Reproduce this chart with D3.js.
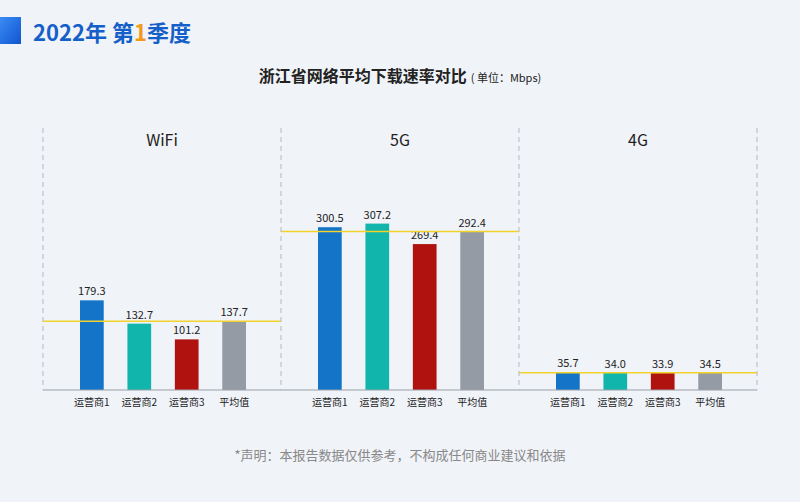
<!DOCTYPE html>
<html><head><meta charset="utf-8">
<script src="https://cdn.jsdelivr.net/npm/d3@7"></script>
<style>body{margin:0;background:#f0f3f8;font-family:"Noto Sans CJK SC","Noto Sans",sans-serif}</style>
</head><body><div id="chart"></div>
<script>
const panels = ["WiFi", "5G", "4G"];
const operators = ["运营商1", "运营商2", "运营商3", "平均值"];
const wifiValues = [179.3, 132.7, 101.2, 137.7];
const g5Values = [300.5, 307.2, 269.4, 292.4];
const g4Values = [35.7, 34.0, 33.9, 34.5];
const panelValues = [wifiValues, g5Values, g4Values];
const panelMax = [520, 480, 520];
const colors = ["#1474c8", "#12b5ac", "#b0120f", "#949ba5"];

const width = 800, height = 502;
const svg = d3.select("#chart").append("svg").attr("width", width).attr("height", height);
svg.append("rect").attr("width", width).attr("height", height).attr("fill", "#f0f3f8");

// header
const grad = svg.append("defs").append("linearGradient").attr("id", "hg").attr("x1", 0).attr("y1", 0).attr("x2", 1).attr("y2", 1);
grad.append("stop").attr("offset", 0).attr("stop-color", "#3b8cf5");
grad.append("stop").attr("offset", 1).attr("stop-color", "#0f55cf");
svg.append("rect").attr("x", 0).attr("y", 17).attr("width", 21).attr("height", 27).attr("fill", "url(#hg)");
const h = svg.append("text").attr("x", 33).attr("y", 41).attr("font-size", 22).attr("font-weight", 700).attr("fill", "#1560c8");
h.append("tspan").text("2022年 第");
h.append("tspan").attr("fill", "#f39a1b").text("1");
h.append("tspan").text("季度");

const t = svg.append("text").attr("x", 400).attr("y", 82).attr("text-anchor", "middle").attr("fill", "#222");
t.append("tspan").attr("font-size", 16).attr("font-weight", 700).text("浙江省网络平均下载速率对比");
t.append("tspan").attr("font-size", 11).attr("dx", 4).text("( 单位：Mbps)");

const x0 = d3.scaleBand().domain(panels).range([43, 757]);
const baseY = 390, topY = 130;

panels.forEach((p, i) => {
  const vals = panelValues[i];
  const px = x0(p), pw = x0.bandwidth();
  const x = d3.scaleBand().domain(operators).range([px + 37, px + 203]).paddingInner(0.5).paddingOuter(0);
  const y = d3.scaleLinear().domain([0, panelMax[i]]).range([baseY, topY]);
  const g = svg.append("g");
  g.append("text").attr("x", px + pw / 2).attr("y", 146).attr("text-anchor", "middle")
    .attr("font-size", 16).attr("fill", "#222").text(p);
  g.selectAll("rect.bar").data(vals).join("rect").attr("class", "bar")
    .attr("x", (d, j) => x(operators[j])).attr("width", x.bandwidth())
    .attr("y", d => y(d)).attr("height", d => baseY - y(d))
    .attr("fill", (d, j) => colors[j]);
  g.selectAll("text.val").data(vals).join("text").attr("class", "val")
    .attr("x", (d, j) => x(operators[j]) + x.bandwidth() / 2).attr("y", d => y(d) - 5)
    .attr("text-anchor", "middle").attr("font-size", 11).attr("fill", "#222").text(d => d.toFixed(1));
  g.append("line").attr("x1", px).attr("x2", px + pw).attr("y1", y(vals[3])).attr("y2", y(vals[3]))
    .attr("stroke", "#f2d32c").attr("stroke-width", 1.5);
  const axis = g.append("g").attr("transform", `translate(0,${baseY})`)
    .call(d3.axisBottom(x).tickSize(0).tickPadding(9));
  axis.select(".domain").attr("d", `M${px},0H${px + pw}`).attr("stroke", "#9aa0a8");
  axis.selectAll("text").attr("font-size", 10).attr("fill", "#222").attr("font-family", "Noto Sans CJK SC");
});

[43, 281, 519, 757].forEach(xx => svg.append("line").attr("x1", xx).attr("x2", xx)
  .attr("y1", 128).attr("y2", 390).attr("stroke", "#b5b9bf").attr("stroke-dasharray", "5,4"));

svg.append("text").attr("x", 400).attr("y", 460).attr("text-anchor", "middle").attr("font-size", 13)
  .attr("fill", "#888").text("*声明：本报告数据仅供参考，不构成任何商业建议和依据");
</script></body></html>
